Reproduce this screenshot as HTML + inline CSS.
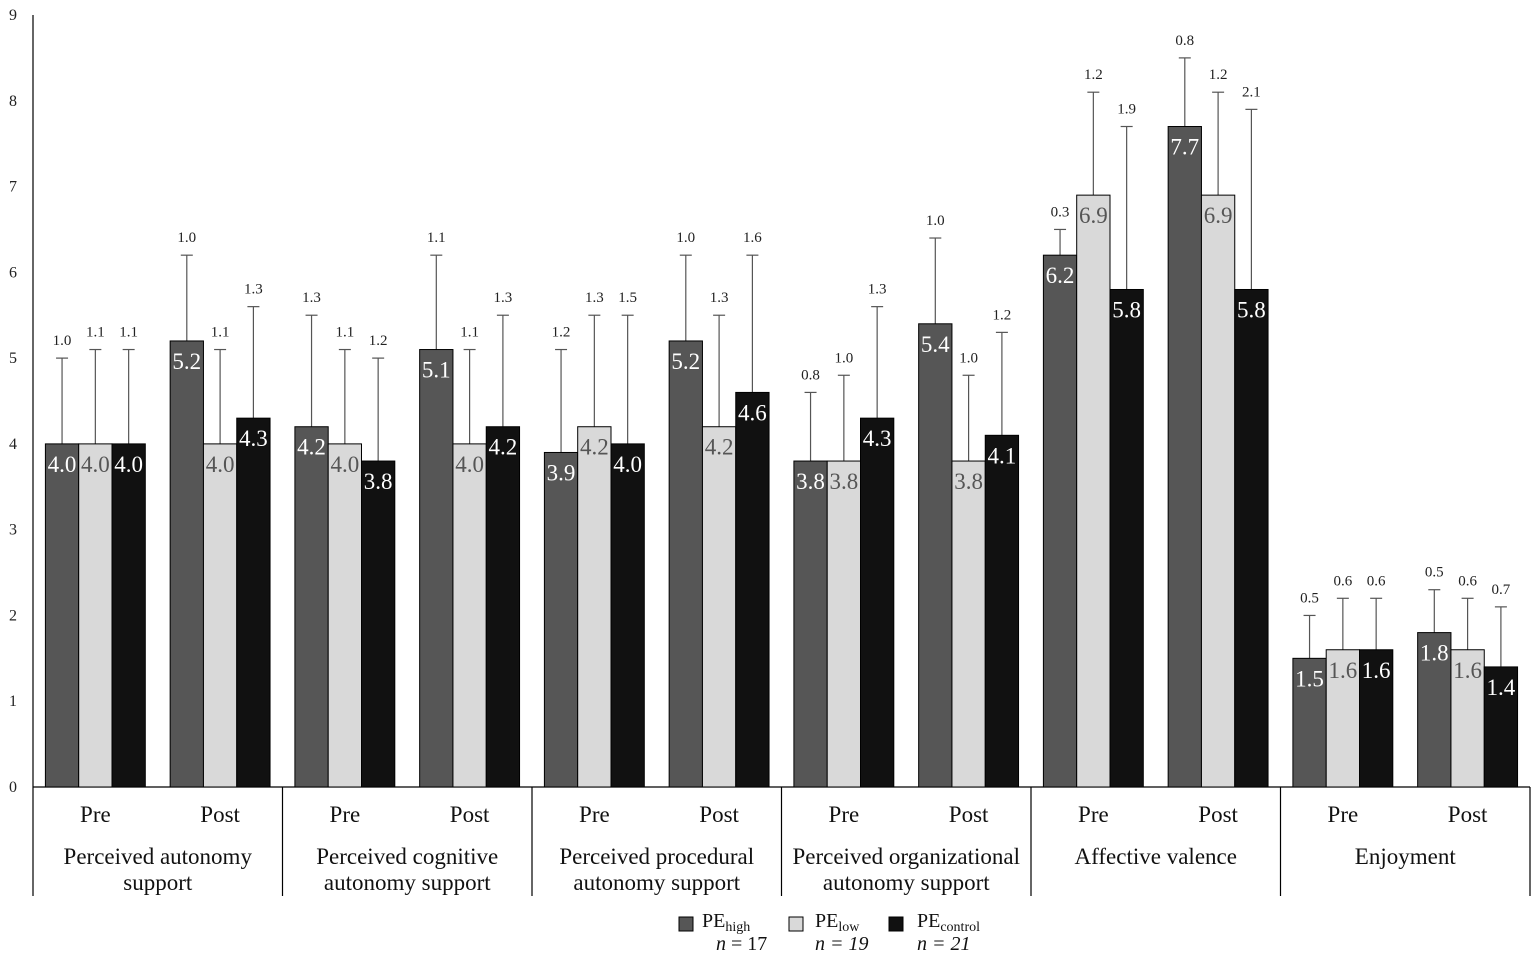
<!DOCTYPE html>
<html><head><meta charset="utf-8"><style>
body{margin:0;background:#fff;}
svg{display:block;font-family:"Liberation Serif",serif;}
</style></head><body>
<svg id="chart" width="1535" height="960" viewBox="0 0 1535 960"></svg>
<script>
const categories=[["Perceived autonomy","support"],["Perceived cognitive","autonomy support"],["Perceived procedural","autonomy support"],["Perceived organizational","autonomy support"],["Affective valence"],["Enjoyment"]];
const phases=["Pre","Post"];
const yTicks=[0,1,2,3,4,5,6,7,8,9];
const highMeans=[4.0,5.2,4.2,5.1,3.9,5.2,3.8,5.4,6.2,7.7,1.5,1.8];
const lowMeans=[4.0,4.0,4.0,4.0,4.2,4.2,3.8,3.8,6.9,6.9,1.6,1.6];
const ctrlMeans=[4.0,4.3,3.8,4.2,4.0,4.6,4.3,4.1,5.8,5.8,1.6,1.4];
const highSD=[1.0,1.0,1.3,1.1,1.2,1.0,0.8,1.0,0.3,0.8,0.5,0.5];
const lowSD=[1.1,1.1,1.1,1.1,1.3,1.3,1.0,1.0,1.2,1.2,0.6,0.6];
const ctrlSD=[1.1,1.3,1.2,1.3,1.5,1.6,1.3,1.2,1.9,2.1,0.6,0.7];

const svg=document.getElementById('chart');
const NS="http://www.w3.org/2000/svg";
const X0=33,X1=1530,Y0=787,Y9=15;
const y=v=>Y0-(Y0-Y9)*v/9;
const catW=(X1-X0)/6, grpW=catW/2, barW=33.3;
function el(tag,attrs,txt){const e=document.createElementNS(NS,tag);for(const k in attrs)e.setAttribute(k,attrs[k]);if(txt!==undefined)e.textContent=txt;svg.appendChild(e);return e;}

let a=el('line',{x1:X0,y1:Y9,x2:X0,y2:896,stroke:'#000','stroke-width':1.2});


a=el('line',{x1:X0,y1:Y0,x2:X1,y2:Y0,stroke:'#000','stroke-width':1.2});


yTicks.forEach(t=>{
  const e=el('text',{x:13,y:y(t)+5,'font-size':16,'text-anchor':'middle',fill:'#222'},String(t));
  
  
});
for(let i=1;i<=6;i++){
  const xb=X0+catW*i;
  const e=el('line',{x1:xb,y1:Y0,x2:xb,y2:896,stroke:'#000','stroke-width':1.2});
  
  
}
categories.forEach((c,i)=>{
  const cx=X0+catW*(i+0.5);
  c.forEach((line,j)=>{
    const e=el('text',{x:cx,y:864+j*26,'font-size':23,'text-anchor':'middle',fill:'#111'},line);
    
    
  });
  phases.forEach((p,k)=>{
    const e=el('text',{x:X0+catW*i+grpW*(k+0.5),y:822,'font-size':23,'text-anchor':'middle',fill:'#111'},p);
    
    
  });
});
const series=[{m:highMeans,s:highSD,fill:'#565656',txt:'#fff',name:'high'},{m:lowMeans,s:lowSD,fill:'#d9d9d9',txt:'#555',name:'low'},{m:ctrlMeans,s:ctrlSD,fill:'#111',txt:'#fff',name:'control'}];
for(let g=0;g<12;g++){
  const gx=X0+grpW*g+12.4;
  series.forEach((sr,k)=>{
    const bx=gx+barW*k, v=sr.m[g], sd=sr.s[g], cx=bx+barW/2;
    const eb=el('line',{x1:cx,y1:y(v),x2:cx,y2:y(v+sd),stroke:'#555','stroke-width':1.2});
    
    
    const cap=el('line',{x1:cx-6,y1:y(v+sd),x2:cx+6,y2:y(v+sd),stroke:'#555','stroke-width':1.2});
    
    
    const b=el('rect',{x:bx,y:y(v),width:barW,height:Y0-y(v),fill:sr.fill,stroke:'#000','stroke-width':1});
    
    
    const t=el('text',{x:cx,y:y(v)+28,'font-size':23,'text-anchor':'middle',fill:sr.txt},v.toFixed(1));
    
    
    const st=el('text',{x:cx,y:y(v+sd)-13,'font-size':15,'text-anchor':'middle',fill:'#222'},sd.toFixed(1));
    
    
  });
}
</script>
<svg style="position:absolute;left:0;top:0" width="1535" height="960">
  <g font-family="Liberation Serif, serif" fill="#111">
    <rect x="679" y="917" width="14" height="14" fill="#565656" stroke="#000"/>
    <text x="702" y="927" font-size="20">PE<tspan font-size="14" dy="4">high</tspan></text>
    <text x="716" y="950" font-size="20"><tspan font-style="italic">n</tspan> = 17</text>
    <rect x="789" y="917" width="14" height="14" fill="#d9d9d9" stroke="#000"/>
    <text x="815" y="927" font-size="20">PE<tspan font-size="14" dy="4">low</tspan></text>
    <text x="815" y="950" font-size="20" font-style="italic">n = 19</text>
    <rect x="889" y="917" width="14" height="14" fill="#111" stroke="#000"/>
    <text x="917" y="927" font-size="20">PE<tspan font-size="14" dy="4">control</tspan></text>
    <text x="917" y="950" font-size="20" font-style="italic">n = 21</text>
  </g>
</svg>
</body></html>
